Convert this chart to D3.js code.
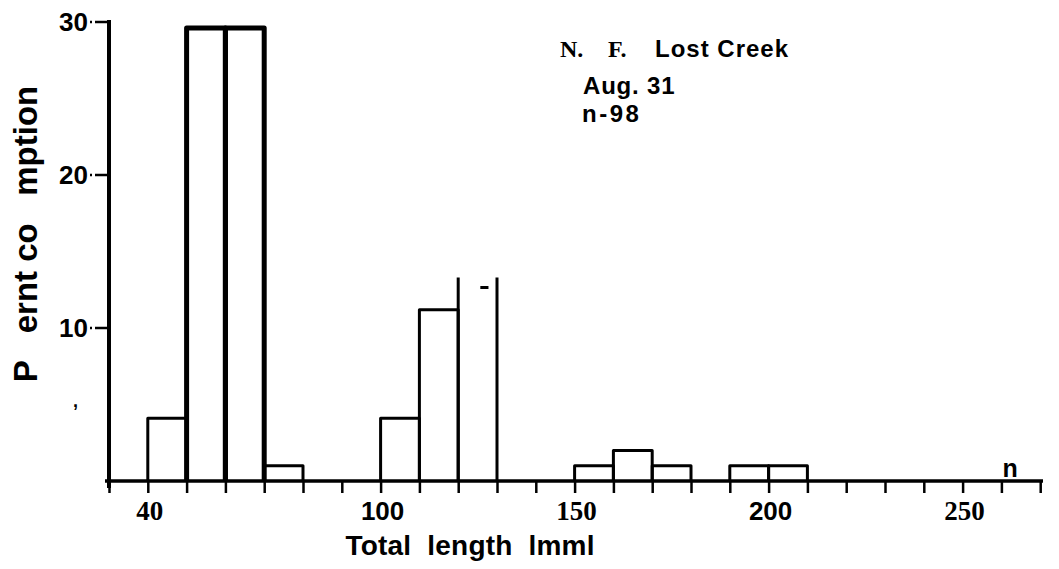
<!DOCTYPE html>
<html>
<head>
<meta charset="utf-8">
<script src="https://cdn.jsdelivr.net/npm/d3@7"></script>
<style>
  html, body { margin: 0; padding: 0; background: #fff; }
  svg { display: block; }
</style>
</head>
<body>
<svg id="chart" width="1059" height="569"></svg>
<script>
// ---- data ----
const binStart = [40, 50, 60, 70, 100, 110, 120, 150, 160, 170, 190, 200];
const percent  = [4.1, 29.6, 29.6, 1.0, 4.1, 11.2, 13.3, 1.0, 2.0, 1.0, 1.0, 1.0];
const binWidth = 10;
const brokenTopBins = [120];           // bar whose top edge is lost in the scan
const xTickValues = [30, 40, 50, 60, 70, 80, 90, 100, 110, 120, 130, 140, 150, 160, 170, 180, 190, 200, 210, 220, 230, 240, 250, 260, 270];
const xLabelValues = [40, 100, 150, 200, 250];
const xLabelSerif  = [true, false, true, false, true];
const yTickValues = [10, 20, 30];
const titleLines = ["Aug. 31", "n-98"];

const svg = d3.select("#chart");
const x = d3.scaleLinear().domain([30, 280]).range([109, 1079]);
const y = d3.scaleLinear().domain([0, 30]).range([481, 22]);

const SANS = "'Liberation Sans', Arial, sans-serif";
const SERIF = "'Liberation Serif', 'Times New Roman', serif";

// ---- bars ----
const bars = binStart.map((s, i) => ({ s, v: percent[i] }));
svg.append("g").selectAll("path")
  .data(bars)
  .join("path")
  .attr("d", d => {
    const x0 = x(d.s), x1 = x(d.s + binWidth), yt = y(d.v), yb = y(0);
    if (brokenTopBins.includes(d.s)) {
      return `M${x0},${yb}V${yt}M${x1},${yb}V${yt}`;
    }
    return `M${x0},${yb}V${yt}H${x1}V${yb}`;
  })
  .attr("fill", "none")
  .attr("stroke", "#000")
  .attr("stroke-width", d => d.v > 20 ? 5 : 3)
  .attr("stroke-linejoin", "round");

// remnant dash of the lost top edge
svg.append("g").selectAll("line")
  .data(bars.filter(d => brokenTopBins.includes(d.s)))
  .join("line")
  .attr("x1", d => x(d.s + 5.7)).attr("x2", d => x(d.s + 7.8))
  .attr("y1", d => y(d.v) + 10).attr("y2", d => y(d.v) + 10)
  .attr("stroke", "#000").attr("stroke-width", 3);

// ---- x axis ----
const xAxis = d3.axisBottom(x)
  .tickValues(xTickValues)
  .tickSize(12)
  .tickSizeOuter(0)
  .tickFormat("");
const gx = svg.append("g").attr("transform", `translate(0,${y(0)})`).call(xAxis);
gx.select(".domain").remove();
gx.selectAll(".tick line").attr("stroke", "#000").attr("stroke-width", 2.5);
svg.append("line")
  .attr("x1", x(30) - 4).attr("x2", 1043)
  .attr("y1", y(0)).attr("y2", y(0))
  .attr("stroke", "#000").attr("stroke-width", 3.5);

svg.append("g").selectAll("text")
  .data(xLabelValues.map((v, i) => ({ v, serif: xLabelSerif[i] })))
  .join("text")
  .attr("x", d => x(d.v) + 2)
  .attr("y", 520)
  .attr("text-anchor", "middle")
  .attr("font-family", d => d.serif ? SERIF : SANS)
  .attr("font-weight", "bold")
  .attr("font-size", d => d.serif ? 27 : 26)
  .text(d => String(d.v));

// ---- y axis ----
svg.append("line")
  .attr("x1", x(30)).attr("x2", x(30))
  .attr("y1", y(30) - 2).attr("y2", y(0) + 7)
  .attr("stroke", "#000").attr("stroke-width", 4);

const gy = svg.append("g");
gy.selectAll("line")
  .data(yTickValues)
  .join("line")
  .attr("x1", x(30) - 19).attr("x2", x(30))
  .attr("y1", d => y(d)).attr("y2", d => y(d))
  .attr("stroke", "#000").attr("stroke-width", 2.5)
  .attr("stroke-dasharray", "2 3 30");
gy.selectAll("text")
  .data(yTickValues)
  .join("text")
  .attr("x", x(30) - 21)
  .attr("y", d => y(d))
  .attr("dy", "0.36em")
  .attr("text-anchor", "end")
  .attr("font-family", SANS)
  .attr("font-weight", "bold")
  .attr("font-size", 26)
  .text(d => String(d));

// stray comma where the 5 label was
svg.append("text")
  .attr("x", 73).attr("y", y(5) + 2)
  .attr("font-family", SANS).attr("font-weight", "bold").attr("font-size", 18)
  .text(",");

// ---- axis titles ----
svg.append("text")
  .attr("transform", `translate(37,${234}) rotate(-90)`)
  .attr("text-anchor", "middle")
  .attr("font-family", SANS)
  .attr("font-weight", "bold")
  .attr("font-size", 33)
  .style("white-space", "pre")
  .text("P   ernt co   mption");

svg.append("text")
  .attr("x", 470).attr("y", 555)
  .attr("text-anchor", "middle")
  .attr("font-family", SANS)
  .attr("font-weight", "bold")
  .attr("font-size", 28)
  .attr("textLength", 249)
  .attr("lengthAdjust", "spacing")
  .style("white-space", "pre")
  .text("Total  length  lmml");

// ---- stray "n" at 260 ----
svg.append("text")
  .attr("x", x(260) + 1).attr("y", y(0) - 4)
  .attr("font-family", SANS).attr("font-weight", "bold").attr("font-size", 25)
  .text("n");

// ---- title block ----
const tb = svg.append("g");
tb.append("text").attr("x", 560).attr("y", 57)
  .attr("font-family", SERIF).attr("font-weight", "bold").attr("font-size", 24)
  .text("N.");
tb.append("text").attr("x", 608).attr("y", 57)
  .attr("font-family", SERIF).attr("font-weight", "bold").attr("font-size", 24)
  .text("F.");
tb.append("text").attr("x", 655).attr("y", 57)
  .attr("font-family", SANS).attr("font-weight", "bold").attr("font-size", 24)
  .attr("textLength", 133).attr("lengthAdjust", "spacing")
  .text("Lost Creek");
tb.selectAll("text.line")
  .data(titleLines)
  .join("text")
  .attr("class", "line")
  .attr("x", (d, i) => i === 0 ? 583 : 582)
  .attr("y", (d, i) => 94 + i * 28)
  .attr("font-family", SANS).attr("font-weight", "bold").attr("font-size", 24)
  .attr("letter-spacing", (d, i) => i === 1 ? 2.5 : 0.8)
  .text(d => d);
</script>
</body>
</html>
